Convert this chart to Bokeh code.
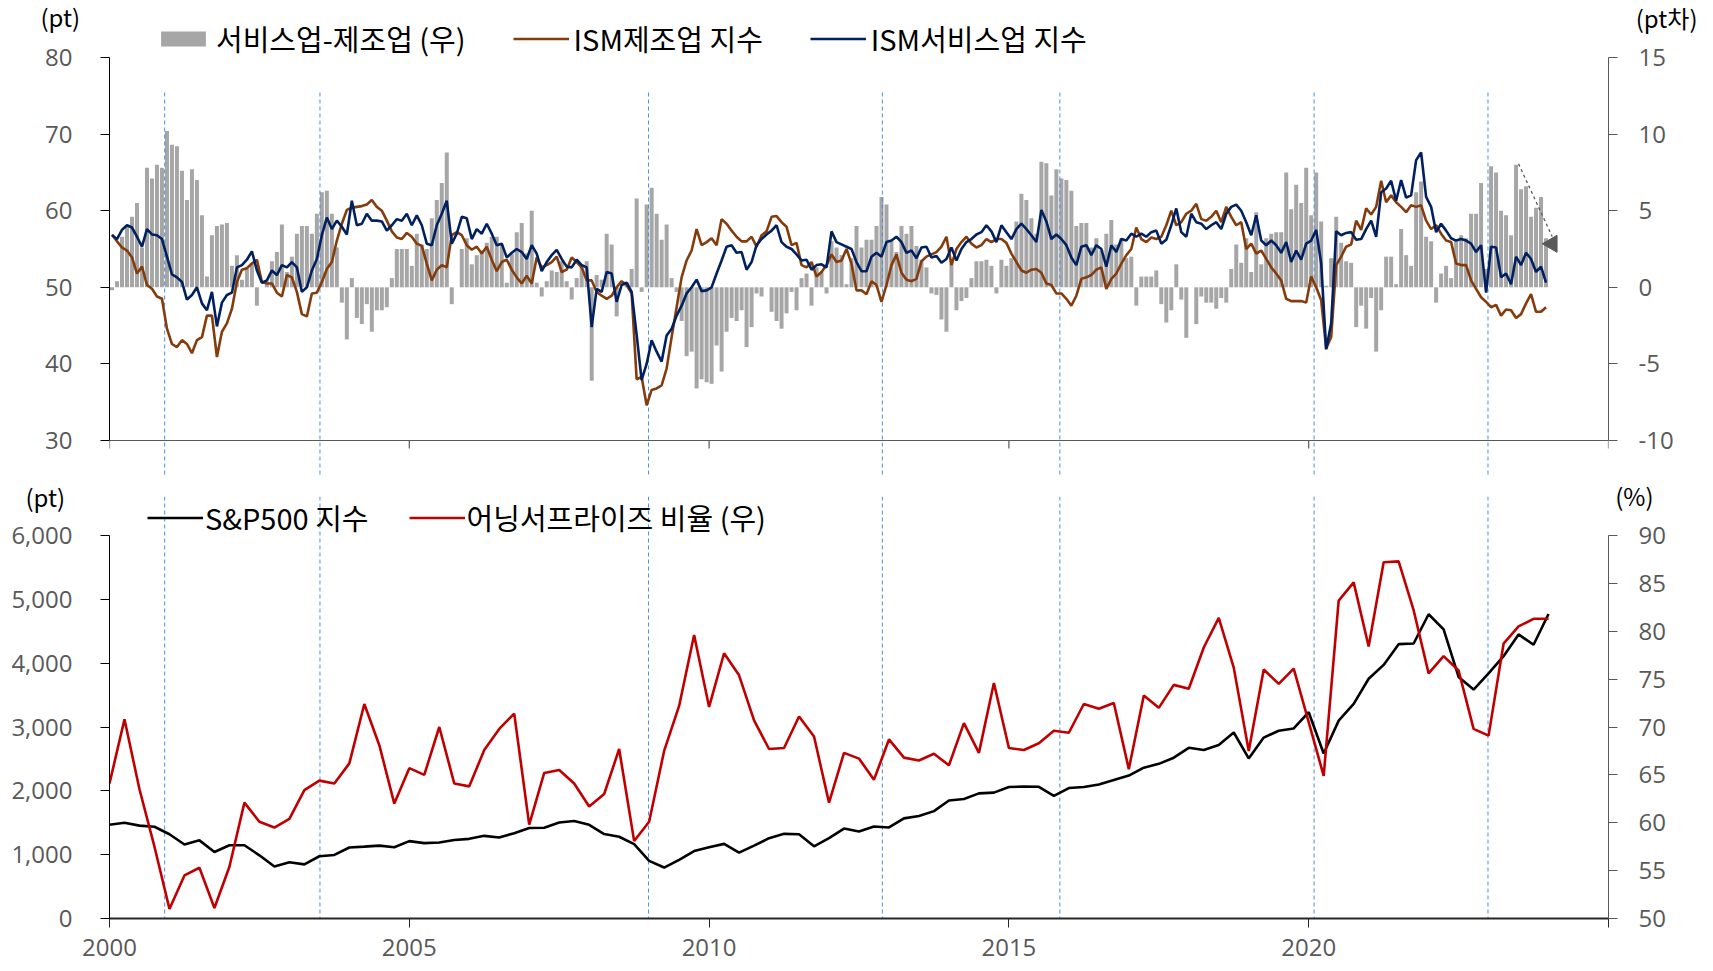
import math
from bokeh.plotting import figure
from bokeh.models import (Range1d, LinearAxis, FixedTicker, Legend, LegendItem,
                          Title, NumeralTickFormatter, Span)
from bokeh.layouts import column
from bokeh.embed import file_html
from bokeh.resources import INLINE

# ---------------- data (monthly, Jan-2000 .. Dec-2023) ----------------
ism_mfg = [
    56.9, 56.0, 55.2, 54.8, 53.9, 51.8, 52.7, 50.3, 49.8, 48.8,
    48.5, 44.6, 42.6, 42.2, 43.1, 42.6, 41.4, 43.1, 43.5, 46.3,
    46.3, 40.9, 44.2, 45.3, 47.2, 50.7, 52.3, 52.5, 53.1, 53.6,
    50.7, 50.5, 50.5, 49.3, 48.8, 51.6, 51.3, 49.4, 46.5, 46.2,
    49.2, 49.3, 50.7, 52.4, 53.3, 56.1, 58.3, 60.1, 60.4, 60.5,
    60.6, 60.8, 61.4, 60.5, 60.0, 58.7, 57.3, 56.5, 56.3, 57.1,
    56.6, 55.7, 55.4, 53.1, 50.9, 52.3, 52.9, 52.6, 56.8, 57.2,
    56.8, 55.5, 54.9, 55.3, 54.4, 55.3, 53.6, 52.1, 53.3, 53.6,
    52.3, 51.3, 50.5, 51.5, 50.5, 53.9, 52.6, 52.9, 53.3, 54.0,
    52.0, 52.3, 53.9, 53.3, 52.6, 50.9, 50.9, 49.4, 48.9, 48.5,
    48.9, 50.0, 50.8, 50.3, 49.2, 38.0, 38.3, 34.6, 36.6, 36.8,
    37.2, 39.4, 43.5, 47.4, 51.3, 53.5, 54.8, 57.6, 55.5, 55.9,
    56.4, 55.5, 58.9, 58.3, 57.4, 56.6, 56.0, 56.0, 56.6, 55.3,
    56.8, 57.3, 59.2, 59.3, 58.5, 57.9, 55.5, 55.8, 52.9, 52.6,
    53.3, 51.4, 52.0, 52.9, 54.3, 53.3, 53.5, 55.0, 53.1, 49.6,
    49.6, 49.1, 50.8, 50.3, 48.1, 50.3, 52.9, 54.3, 51.9, 51.0,
    50.8, 51.1, 53.4, 54.0, 54.3, 54.6, 55.3, 56.6, 52.9, 55.0,
    55.9, 56.6, 55.7, 55.2, 55.5, 56.3, 55.9, 56.3, 56.3, 55.8,
    54.4, 53.3, 52.2, 51.9, 52.3, 52.4, 51.9, 50.5, 50.3, 49.2,
    49.2, 48.5, 47.6, 48.9, 51.1, 51.3, 51.6, 52.3, 52.6, 49.8,
    51.1, 51.8, 53.1, 54.2, 55.0, 57.8, 56.3, 55.9, 56.5, 56.3,
    56.6, 58.1, 60.0, 58.1, 58.5, 59.6, 60.0, 60.9, 58.9, 58.7,
    59.2, 60.0, 58.5, 60.5, 59.2, 58.1, 58.5, 55.0, 55.7, 54.4,
    54.8, 53.7, 52.6, 51.8, 50.9, 48.5, 48.2, 48.2, 48.2, 48.0,
    51.4, 50.0, 48.3, 42.0, 43.5, 52.9, 54.0, 55.3, 55.6, 58.7,
    57.5, 60.3, 59.5, 60.5, 63.9, 61.1, 62.0, 61.1, 60.5, 59.8,
    60.7, 60.5, 60.7, 58.7, 57.6, 58.1, 57.0, 56.1, 55.9, 53.1,
    52.9, 52.9, 50.9, 49.8, 48.7, 48.1, 47.4, 47.7, 46.3, 47.1,
    47.0, 46.0, 46.5, 47.9, 49.1, 46.8, 46.8, 47.4,
]

ism_svc = [
    56.8, 56.3, 57.5, 58.1, 57.8, 56.6, 55.3, 57.6, 56.9, 56.8,
    56.3, 54.0, 51.7, 51.3, 50.7, 48.4, 49.0, 50.0, 47.9, 47.0,
    49.4, 44.9, 48.0, 49.0, 49.3, 52.6, 52.9, 53.6, 54.7, 52.2,
    50.6, 50.9, 52.2, 51.6, 52.9, 52.6, 53.3, 52.6, 49.4, 50.0,
    52.2, 53.7, 56.8, 59.1, 57.6, 58.7, 57.9, 56.9, 61.3, 58.1,
    58.3, 59.6, 58.7, 58.7, 58.6, 57.4, 58.1, 58.9, 58.7, 59.6,
    58.1, 59.4, 58.1, 55.7, 55.5, 58.1, 59.6, 61.3, 55.7, 57.0,
    59.2, 59.0, 56.3, 57.6, 57.0, 58.3, 57.0, 55.5, 55.7, 53.9,
    54.5, 55.0, 54.6, 53.7, 55.5, 54.4, 52.1, 53.3, 54.2, 54.9,
    53.7, 52.7, 52.6, 53.6, 52.9, 52.6, 44.8, 49.8, 49.4, 52.0,
    51.8, 48.1, 50.3, 50.6, 49.4, 43.8, 37.9, 40.0, 43.1, 41.6,
    40.3, 43.7, 44.6, 46.3, 47.6, 49.2, 50.0, 51.0, 49.5, 49.6,
    50.0, 51.8, 53.5, 55.3, 55.5, 54.5, 54.6, 52.3, 53.3, 55.5,
    56.3, 56.9, 57.4, 58.1, 55.9, 55.3, 55.0, 54.3, 53.5, 53.6,
    52.3, 52.9, 53.0, 52.6, 57.3, 55.9, 55.6, 55.3, 55.0, 53.3,
    52.1, 52.1, 54.0, 54.5, 54.0, 55.9, 56.1, 56.6, 55.9, 54.5,
    54.8, 53.8, 55.2, 55.3, 53.9, 54.1, 53.2, 53.7, 55.2, 53.5,
    55.0, 55.9, 56.3, 56.9, 57.2, 58.1, 57.3, 55.9, 58.1, 57.2,
    56.3, 57.6, 58.3, 57.6, 56.8, 55.9, 60.1, 58.6, 56.3, 56.9,
    56.3, 55.5, 53.9, 52.9, 55.3, 55.5, 54.2, 55.5, 55.0, 52.7,
    55.5, 54.6, 56.3, 56.1, 57.0, 56.6, 57.0, 56.6, 57.2, 57.4,
    55.7, 56.2, 58.1, 60.3, 57.2, 56.6, 59.6, 58.5, 58.3, 57.6,
    58.1, 58.5, 57.6, 59.6, 60.5, 60.8, 60.0, 58.5, 56.8, 59.4,
    56.1, 55.5, 56.1, 55.5, 54.5, 55.9, 53.3, 54.8, 53.6, 55.7,
    56.1, 57.5, 53.1, 41.9, 45.3, 57.3, 56.8, 57.1, 57.2, 56.2,
    56.3, 57.6, 58.7, 56.6, 62.4, 62.9, 63.9, 61.3, 64.0, 61.7,
    62.0, 66.6, 67.6, 61.8, 60.5, 57.2, 58.3, 57.4, 56.4, 56.1,
    56.3, 56.1, 55.7, 54.6, 55.5, 49.3, 55.3, 55.2, 51.3, 51.8,
    50.4, 54.0, 52.9, 54.5, 53.7, 52.0, 52.7, 50.6,
]

svc_minus_mfg = [
    -0.2, 0.4, 3.3, 4.0, 4.6, 5.5, 2.6, 7.8, 7.1, 8.0,
    7.8, 10.2, 9.3, 9.2, 7.6, 5.7, 7.7, 7.0, 4.7, 0.7,
    3.4, 4.0, 4.1, 4.2, 1.4, 2.1, 0.5, 1.3, 1.6, -1.2,
    0.0, 0.4, 1.7, 2.3, 4.1, 1.0, 2.0, 3.5, 4.0, 4.0,
    3.5, 4.8, 6.2, 6.3, 4.8, 2.6, -1.0, -3.4, 0.6, -2.0,
    -2.4, -1.1, -2.9, -1.5, -1.5, -1.3, 0.6, 2.5, 2.5, 2.5,
    1.4, 3.5, 2.8, 2.5, 4.5, 5.7, 6.8, 8.8, -1.1, 0.0,
    2.5, 3.2, 1.5, 2.1, 2.4, 2.9, 3.3, 3.3, 2.8, 0.3,
    2.2, 3.6, 4.2, 2.2, 5.0, 0.3, -0.6, 0.4, 1.1, 1.0,
    1.7, 0.4, -0.8, 0.6, 1.5, 1.7, -6.1, 0.8, 0.5, 3.5,
    2.8, -1.9, 0.0, 0.3, 1.2, 5.8, -0.3, 5.4, 6.5, 4.8,
    3.1, 4.1, 0.6, -0.3, -2.2, -4.5, -4.2, -6.6, -6.0, -6.2,
    -6.3, -3.8, -5.5, -2.9, -2.0, -2.2, -1.5, -3.9, -2.6, -0.4,
    -0.6, 0.0, -1.6, -2.2, -2.7, -1.7, -0.3, -1.5, 0.6, 0.9,
    -1.2, 1.3, 1.0, -0.4, 3.0, 2.6, 2.1, 0.2, 1.9, 4.0,
    2.6, 3.1, 3.1, 4.0, 5.9, 5.4, 3.0, 2.3, 4.0, 3.5,
    4.0, 2.7, 1.8, 1.3, -0.4, -0.5, -2.1, -2.9, 1.8, -1.5,
    -0.9, -0.7, 0.6, 1.7, 1.7, 1.8, 1.4, -0.4, 1.8, 1.4,
    1.9, 4.3, 6.1, 5.7, 4.5, 3.5, 8.2, 8.1, 6.0, 7.7,
    7.1, 7.0, 6.3, 4.0, 4.2, 4.2, 2.6, 3.2, 2.4, 3.5,
    4.4, 2.8, 3.2, 1.9, 2.0, -1.2, 0.7, 0.7, 0.7, 1.1,
    -1.1, -2.3, -1.5, 1.5, -0.8, -3.3, 0.0, -2.4, -0.6, -1.0,
    -1.0, -1.4, -0.7, -1.0, 1.2, 2.8, 1.6, 3.2, 1.0, 4.9,
    1.5, 3.2, 3.5, 3.6, 3.6, 7.5, 5.1, 6.7, 5.5, 7.8,
    4.7, 7.5, 4.3, 0.1, 1.9, 4.6, 2.9, 1.7, 1.6, -2.6,
    -1.2, -2.7, -0.7, -4.2, -1.5, 2.0, 2.0, 0.2, 3.8, 2.1,
    1.4, 6.2, 6.9, 3.3, 3.0, -1.0, 0.9, 1.4, 0.6, 3.0,
    3.4, 3.2, 4.8, 4.8, 6.8, 1.2, 7.9, 7.5, 5.0, 4.7,
    3.4, 8.0, 6.4, 6.6, 4.6, 5.2, 5.9, 3.2,
]

# ---------------- data (quarterly, Dec-1999 .. Dec-2023) ----------------
sp500 = [
    1469,
    1499, 1455, 1437, 1320, 1160, 1224, 1041, 1148, 1147, 990, 815, 880,
    848, 975, 996, 1112, 1126, 1141, 1115, 1212, 1181, 1191, 1229, 1248,
    1295, 1270, 1336, 1418, 1421, 1503, 1527, 1468, 1323, 1280, 1166, 903,
    798, 919, 1057, 1115, 1169, 1031, 1141, 1258, 1326, 1321, 1131, 1258,
    1409, 1362, 1441, 1426, 1569, 1606, 1682, 1848, 1872, 1960, 1972, 2059,
    2068, 2063, 1920, 2044, 2060, 2099, 2168, 2239, 2363, 2423, 2519, 2674,
    2641, 2718, 2914, 2507, 2834, 2942, 2977, 3231, 2585, 3100, 3363, 3756,
    3973, 4298, 4308, 4766, 4530, 3785, 3586, 3840, 4109, 4450, 4288, 4770,
]

surprise_ratio = [
    64.1, 70.8, 63.5, 57.5, 51.0, 54.5, 55.3, 51.1, 55.4, 62.1,
    60.1, 59.5, 60.4, 63.4, 64.4, 64.1, 66.2, 72.4, 68.1, 62.0,
    65.7, 65.0, 70.0, 64.1, 63.8, 67.6, 69.8, 71.4, 59.8, 65.2,
    65.5, 64.1, 61.7, 63.0, 67.7, 58.1, 60.1, 67.5, 72.2, 79.6,
    72.1, 77.7, 75.4, 70.7, 67.7, 67.8, 71.1, 69.0, 62.1, 67.3,
    66.7, 64.5, 68.7, 66.8, 66.5, 67.2, 66.0, 70.4, 67.3, 74.6,
    67.8, 67.6, 68.3, 69.6, 69.4, 72.4, 71.9, 72.5, 65.6, 73.3,
    72.0, 74.4, 74.0, 78.3, 81.4, 76.2, 67.5, 76.0, 74.5, 76.1,
    70.5, 64.9, 83.2, 85.1, 78.4, 87.2, 87.3, 82.2, 75.6, 77.4,
    75.9, 69.8, 69.1, 78.7, 80.5, 81.3, 81.3,
]

# dates of the vertical dashed reference lines (fractional years)
cut_years = [2000.92, 2003.51, 2008.99, 2012.89, 2015.85, 2020.09, 2022.99]
# dashed arrow annotation on the top chart (year, right-axis value)
arrow_x = [2023.50, 2024.06]
arrow_y = [8.06, 3.32]
tri_x = [2024.06]
tri_y = [2.84]

x_ticks = [2000, 2005, 2010, 2015, 2020, 2025]
top_left_ticks = [30, 40, 50, 60, 70, 80]
top_right_ticks = [-10, -5, 0, 5, 10, 15]
bot_left_ticks = [0, 1000, 2000, 3000, 4000, 5000, 6000]
bot_right_ticks = [50, 55, 60, 65, 70, 75, 80, 85, 90]

month_x = lambda n: [2000 + (i + 0.5) / 12 for i in range(n)]
quarter_x = lambda n: [2000 + 0.25 * i for i in range(n)]

# ---------------- layout constants (page pixels, page margin is 0) ----------------
LEFT_B, RIGHT_B = 109, 95
W_FRAME = 1499
# top chart: frame runs from y=17 down to y=476; its x axis sits at y=440
T_TOP_B = 17
T_FRAME_BOT = 476
T_AXIS_Y = 440
T_FRAME_H = T_FRAME_BOT - T_TOP_B
T_PX_L = 383 / 50.0
T_PX_R = 383 / 25.0
# bottom chart
B_TOP_B = 20
B_FRAME_TOP = T_FRAME_BOT + B_TOP_B
B_FRAME_BOT = 918
B_FRAME_H = B_FRAME_BOT - B_FRAME_TOP
B_BOT_B = 53
B_PX_L = 383 / 6000.0
B_PX_R = 383 / 40.0
FRAME_X0 = LEFT_B
FRAME_X1 = LEFT_B + W_FRAME


def top_val(py):
    return 30 + (T_AXIS_Y - py) / T_PX_L


TICK_FONT = "Open Sans"
KR_FONT = "Noto Sans CJK KR"
GRAY = "#595959"
DASH_BLUE = "#4A90E2"


def style_axis(ax, line_color, standoff, tick_len=9, lw=1):
    ax.axis_line_color = line_color
    ax.axis_line_width = lw
    ax.major_tick_line_color = line_color
    ax.major_tick_out = tick_len
    ax.major_tick_in = 0
    ax.minor_tick_out = 0
    ax.minor_tick_in = 0
    ax.major_label_text_font = TICK_FONT
    ax.major_label_text_font_size = "24px"
    ax.major_label_text_color = GRAY
    ax.major_label_standoff = standoff


def base_fig(frame_h, top_b, bot_b, y_range, x_axis=True):
    p = figure(frame_width=W_FRAME, frame_height=frame_h,
               min_border_left=LEFT_B, min_border_right=RIGHT_B,
               min_border_top=top_b, min_border_bottom=bot_b,
               x_range=Range1d(2000, 2025), y_range=y_range,
               x_axis_location="below" if x_axis else None,
               output_backend="svg", toolbar_location=None,
               background_fill_color="white", border_fill_color="white",
               outline_line_color=None)
    p.grid.visible = False
    return p


def unit_title(text, align, offset):
    kw = dict(text=text, align=align, offset=offset, vertical_align="middle",
              text_font=KR_FONT, text_font_size="24px", text_font_style="normal",
              text_color="black")
    try:
        return Title(standoff=-36, **kw)
    except Exception:
        return Title(standoff=0, **kw)


def make_legend(items, loc, spacing, standoff):
    return Legend(items=items, orientation="horizontal", location=loc,
                  label_text_font=KR_FONT, label_text_font_size="29px",
                  label_text_color="black", glyph_width=56, glyph_height=19,
                  label_standoff=standoff, spacing=spacing, padding=0, margin=0,
                  border_line_color=None, background_fill_alpha=0)

# ======================= TOP CHART =======================
pt = base_fig(T_FRAME_H, T_TOP_B, 0,
              Range1d(30 - (T_FRAME_BOT - T_AXIS_Y) / T_PX_L,
                      30 + (T_AXIS_Y - T_TOP_B) / T_PX_L),
              x_axis=False)
pt.extra_y_ranges = {"r": Range1d(-10 - (T_FRAME_BOT - T_AXIS_Y) / T_PX_R,
                                  -10 + (T_AXIS_Y - T_TOP_B) / T_PX_R)}

ax = pt.yaxis[0]
style_axis(ax, "black", 28)
ax.ticker = FixedTicker(ticks=top_left_ticks)
ax.bounds = (30, 80)

rax = LinearAxis(y_range_name="r", ticker=FixedTicker(ticks=top_right_ticks))
style_axis(rax, GRAY, 21)
rax.bounds = (-10, 15)
rax.major_label_overrides = {t: str(t) for t in top_right_ticks}
pt.add_layout(rax, "right")

bars_r = pt.vbar(x=month_x(len(svc_minus_mfg)), top=svc_minus_mfg, bottom=0,
                 width=0.8 / 12, y_range_name="r",
                 fill_color="#A6A6A6", line_color=None)

pt.segment(x0=cut_years, y0=[top_val(92)] * len(cut_years),
           x1=cut_years, y1=[pt.y_range.start] * len(cut_years),
           line_color=DASH_BLUE, line_width=1, line_dash="4 3")

mfg_r = pt.line(month_x(len(ism_mfg)), ism_mfg, line_color="#843C0C", line_width=2.6)
svc_r = pt.line(month_x(len(ism_svc)), ism_svc, line_color="#002060", line_width=2.6)

# x axis line of the top chart (at value 30) and its tick marks
pt.add_layout(Span(location=30, dimension="width", line_color=GRAY, line_width=1.2))
pt.segment(x0=x_ticks, y0=[30] * len(x_ticks), x1=x_ticks,
           y1=[30 - 8 / T_PX_L] * len(x_ticks), line_color=GRAY, line_width=1.2)

pt.line(arrow_x, arrow_y, y_range_name="r", line_color=GRAY, line_width=1.3,
        line_dash="3 3")
pt.scatter(tri_x, tri_y, y_range_name="r", marker="triangle", angle=math.pi / 2,
           size=17, fill_color=GRAY, line_color=GRAY)

pt.add_layout(make_legend([
    LegendItem(label="서비스업-제조업 (우)", renderers=[bars_r]),
    LegendItem(label="ISM제조업 지수", renderers=[mfg_r]),
    LegendItem(label="ISM서비스업 지수", renderers=[svc_r]),
], (46, 417), 47, 5), "center")

pt.add_layout(unit_title("(pt차)", "right", FRAME_X1 - 1697), "above")
pt.add_layout(unit_title("(pt)", "left", 40 - FRAME_X0), "above")

# ======================= BOTTOM CHART =======================
pb = base_fig(B_FRAME_H, B_TOP_B, B_BOT_B, Range1d(0, B_FRAME_H / B_PX_L))
pb.extra_y_ranges = {"r": Range1d(50, 50 + B_FRAME_H / B_PX_R)}

bl = pb.yaxis[0]
style_axis(bl, "black", 28)
bl.ticker = FixedTicker(ticks=bot_left_ticks)
bl.formatter = NumeralTickFormatter(format="0,0")
bl.bounds = (0, 6000)

br = LinearAxis(y_range_name="r", ticker=FixedTicker(ticks=bot_right_ticks))
style_axis(br, GRAY, 21)
br.bounds = (50, 90)
pb.add_layout(br, "right")

bx = pb.xaxis[0]
style_axis(bx, "#262626", 11, tick_len=9, lw=2)
bx.ticker = FixedTicker(ticks=x_ticks)
bx.major_label_overrides = {2025: ""}

for yr in cut_years:
    pb.add_layout(Span(location=yr, dimension="height", line_color=DASH_BLUE,
                       line_width=1, line_dash="4 3", level="underlay"))

sp_r = pb.line(quarter_x(len(sp500)), sp500, line_color="black", line_width=2.6)
su_r = pb.line(quarter_x(len(surprise_ratio)), surprise_ratio, y_range_name="r",
               line_color="#C00000", line_width=2.6)

pb.add_layout(make_legend([
    LegendItem(label="S&P500 지수", renderers=[sp_r]),
    LegendItem(label="어닝서프라이즈 비율 (우)", renderers=[su_r]),
], (38, 380), 40, 2), "center")

pb.add_layout(unit_title("(pt)", "left", 25 - FRAME_X0), "above")
pb.add_layout(unit_title("(%)", "right", FRAME_X1 - 1653), "above")

layout = column(pt, pb)
open("out.html", "w").write(file_html(layout, INLINE))
